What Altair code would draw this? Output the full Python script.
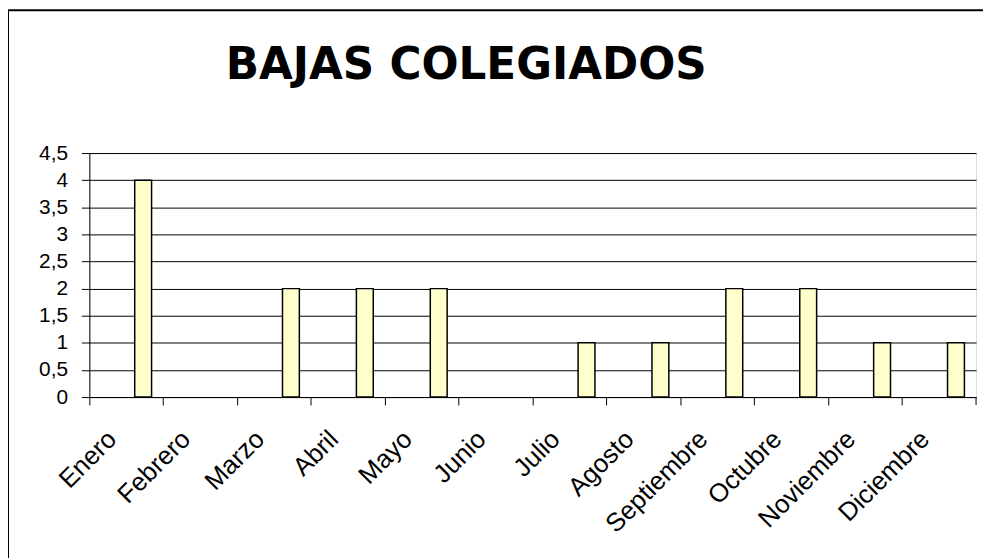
import altair as alt
import pandas as pd

titulo = "BAJAS COLEGIADOS"
meses = ["Enero", "Febrero", "Marzo", "Abril", "Mayo", "Junio", "Julio",
         "Agosto", "Septiembre", "Octubre", "Noviembre", "Diciembre"]
bajas = [4, 0, 2, 2, 2, 0, 1, 1, 2, 2, 1, 1]
ticks_y = [0, 0.5, 1, 1.5, 2, 2.5, 3, 3.5, 4, 4.5]

df = pd.DataFrame({"mes": meses, "bajas": bajas})
df_fin = df.tail(1)

W, H = 894, 246
FONT = "Liberation Sans"

xscale = alt.Scale(domain=meses, paddingInner=0, paddingOuter=0)
yscale = alt.Scale(domain=[0, 4.5], nice=False)

frame = alt.Chart(df_fin).mark_rect(
    filled=False, stroke="black", strokeWidth=2
).encode(
    x=alt.value(-82), x2=alt.value(W + 40),
    y=alt.value(-144), y2=alt.value(H + 200),
)

title = alt.Chart(df_fin).mark_text(
    text=titulo, font="DejaVu Sans", fontSize=44, fontWeight="bold",
    color="black", align="center", baseline="alphabetic"
).encode(x=alt.value(380), y=alt.value(-75))

bars = alt.Chart(df).transform_filter("datum.bajas > 0").mark_bar(
    width=17, xOffset=17, fill="#FFFFCC", stroke="black", strokeWidth=1.5
).encode(
    x=alt.X("mes:N", scale=xscale, sort=meses, title=None,
            axis=alt.Axis(bandPosition=0, labelOffset=-14, labelAngle=-45,
                          labelAlign="right", labelBaseline="middle",
                          labelFont=FONT, labelFontSize=26, labelColor="black",
                          tickSize=8, tickColor="black", domainColor="black",
                          labelPadding=30, labelOverlap=False, grid=False)),
    y=alt.Y("bajas:Q", scale=yscale, title=None,
            axis=alt.Axis(values=ticks_y,
                          labelExpr="replace(format(datum.value, '~g'), '.', ',')",
                          labelFont=FONT, labelFontSize=21, labelColor="black",
                          tickSize=8, tickColor="black", domainColor="black",
                          labelPadding=14, grid=True, gridColor="black",
                          gridOpacity=1, gridWidth=1)),
)

endtick = alt.Chart(df_fin).mark_rule(color="black").encode(
    x=alt.X("mes:N", scale=xscale, sort=meses, bandPosition=1),
    y=alt.value(H), y2=alt.value(H + 8),
)

chart = alt.layer(frame, title, bars, endtick).properties(
    width=W, height=H,
    autosize=alt.AutoSizeParams(type="none"),
    padding={"left": 82, "top": 144, "right": 7, "bottom": 160},
).configure_view(
    fill="#C0C0C0", stroke="#808080", strokeWidth=2
).configure(background="white")

chart.save("out.html", embed_options={"renderer": "svg", "actions": False})
